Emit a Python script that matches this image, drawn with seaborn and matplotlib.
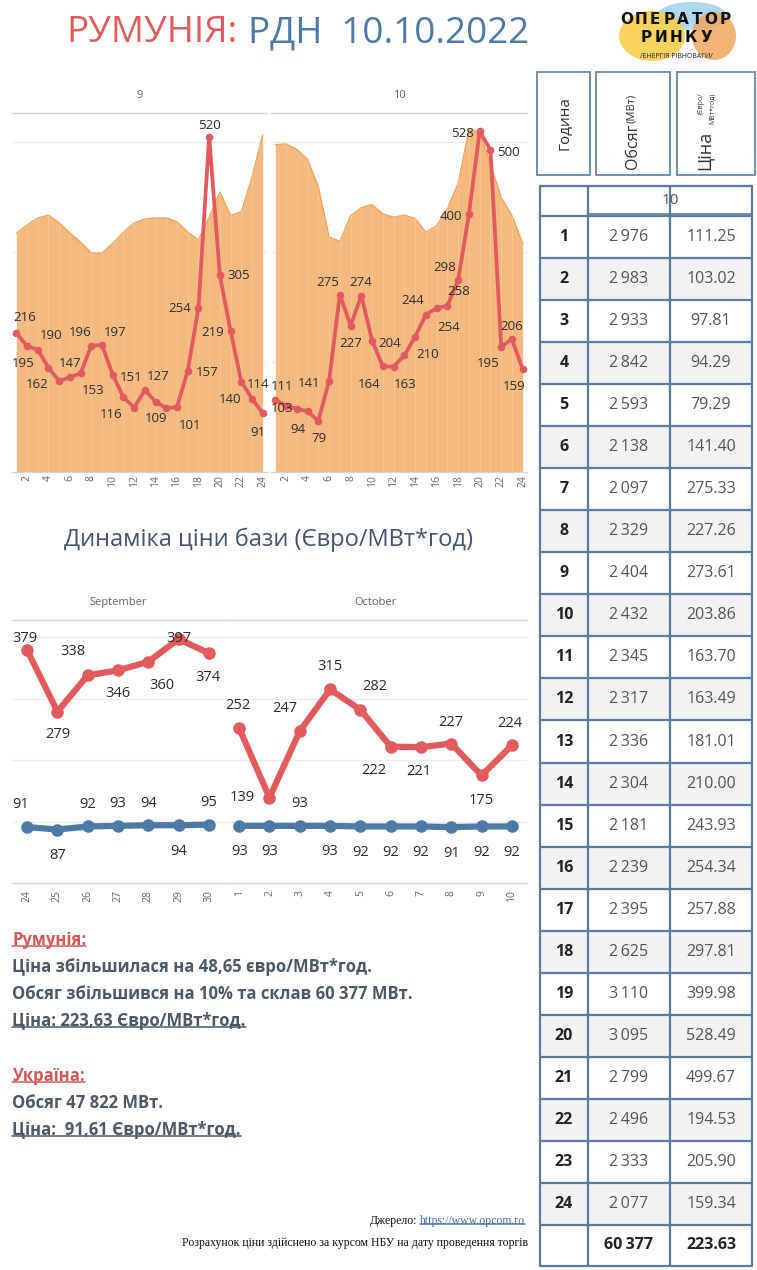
import numpy as np
import seaborn as sns
import matplotlib.pyplot as plt
from matplotlib.patches import Rectangle, Ellipse

sns.set_style("white")
plt.rcParams['font.family'] = ['Open Sans', 'DejaVu Sans']

# --- data ---
hours = list(range(1, 25))
# day 9
vol_9 = [2170, 2245, 2310, 2335, 2265, 2175, 2090, 1990, 1990, 2080, 2180, 2265,
         2300, 2310, 2310, 2275, 2180, 2110, 2315, 2545, 2335, 2365, 2680, 3065]
price_9 = [216, 195, 190, 162, 141, 147, 153, 196, 197, 151, 116, 100,
           127, 109, 99, 101, 157, 254, 520, 305, 219, 140, 114, 91]
# day 10: from the table
vol_10 = [2976, 2983, 2933, 2842, 2593, 2138, 2097, 2329, 2404, 2432, 2345, 2317,
          2336, 2304, 2181, 2239, 2395, 2625, 3110, 3095, 2799, 2496, 2333, 2077]
price_10 = [111.25, 103.02, 97.81, 94.29, 79.29, 141.40, 275.33, 227.26, 273.61, 203.86, 163.70, 163.49,
            181.01, 210.00, 243.93, 254.34, 257.88, 297.81, 399.98, 528.49, 499.67, 194.53, 205.90, 159.34]
total_vol_10 = 60377
base_price_10 = 223.63

sep_days = [24, 25, 26, 27, 28, 29, 30]
oct_days = [1, 2, 3, 4, 5, 6, 7, 8, 9, 10]
ro_sep = [379, 279, 338, 346, 360, 397, 374]
ro_oct = [252, 139, 247, 315, 282, 222, 221, 227, 175, 224]
ua_sep = [91, 87, 92, 93, 94, 94, 95]
ua_oct = [93, 93, 93, 93, 92, 92, 92, 91, 92, 92]

# label offsets in pixels (None = no label)
offs_9 = [(8, 15), (-4, -17), (13, 14), (-11, -17), None, (0, 14), (13, -17), (-11, 13), (13, 13), (18, -3),
          (-12, -17), None, (13, 14), (1, -17), None, (13, -19), (19, -2), (-19, 0), (0, 11), (19, 0),
          (-18, -2), (-11, -18), (6, 14), (-5, -19)]
offs_10 = [(7, 14), (-4, -3), None, (-10, -18), (1, -18), (-20, -3), (-12, 12), (0, -18), (-1, 13), (18, -3),
           (-14, -18), (11, -18), None, (12, -18), (-13, 14), (12, -19), (11, 14), (-13, 13), (-18, -2), (-17, -2),
           (18, -3), (-13, -17), (0, 13), (-9, -17)]
offs_ro_sep = [(-2, 12), (0, -23), (-15, 24), (0, -23), (14, -24), (0, 1), (-1, -24)]
offs_ro_oct = [(-1, 23), (-27, 0), (-15, 23), (0, 23), (14, 23), (-17, -24), (-2, -24), (0, 21), (0, -25), (-2, 22)]
A, B = (0, 22), (0, -26)
offs_ua_sep = [(-7, 23), B, A, A, A, B, A]
offs_ua_oct = [B, B, A, B, B, B, B, B, B, B]

RED = '#e05a5e'
BLUE = '#4e79a7'
ORANGE = '#f5b97e'
ORANGE_EDGE = '#f0a45c'
TXT = '#4d5865'
TRED = '#d2585a'

W, H = 757, 1270
fig = plt.figure(figsize=(W / 100, H / 100), dpi=100)

ov = fig.add_axes([0, 0, 1, 1])
ov.set_xlim(0, W)
ov.set_ylim(H, 0)
ov.axis('off')


def px_axes(x0, y0, x1, y1):
    return fig.add_axes([x0 / W, 1 - y1 / H, (x1 - x0) / W, (y1 - y0) / H])


def label_points(ax, xs, ys, offs, size):
    for x, y, off in zip(xs, ys, offs):
        if off is None:
            continue
        ax.annotate(f"{y:.0f}", (x, y), xytext=off, textcoords='offset pixels',
                    ha='center', va='center', fontsize=size, color='#2b2b2b', zorder=6)


def frame(ax):
    for s in ['left', 'right']:
        ax.spines[s].set_visible(False)
    for s in ['top', 'bottom']:
        ax.spines[s].set_color('#d4d4d4')
        ax.spines[s].set_linewidth(1)
    ax.set_yticks([])


# --- title & logo ---
ov.text(238, 42, "РУМУНІЯ:", ha='right', va='baseline', fontsize=26.5, color=RED)
ov.text(248, 42, "РДН  10.10.2022", ha='left', va='baseline', fontsize=26.5, color=BLUE)

ov.add_patch(Ellipse((692, 16), 70, 28, color='#a8d5ef', alpha=0.9, lw=0))
ov.add_patch(Ellipse((652, 36), 66, 50, color='#f5cf4c', alpha=0.9, lw=0))
ov.add_patch(Ellipse((714, 36), 44, 48, color='#f2a65c', alpha=0.85, lw=0))
for word, yy, step in [("ОПЕРАТОР", 19, 14), ("РИНКУ", 38, 15)]:
    n = len(word)
    for i, ch in enumerate(word):
        ov.text(676 + (i - (n - 1) / 2) * step, yy, ch, ha='center', va='center',
                fontsize=11, fontweight='bold', color='#111', family='DejaVu Sans')
ov.text(676, 56, "/ЕНЕРГІЯ РІВНОВАГИ/", ha='center', va='center', fontsize=5, color='#222')

# --- hourly chart ---
panels = [((12, 267), "9", vol_9, price_9, offs_9), ((271, 527), "10", vol_10, price_10, offs_10)]
for (x0, x1), head, vol, price, offs in panels:
    ax = px_axes(x0, 113, x1, 472)
    for g in (1000, 2000, 3000):
        ax.axhline(g, color='#ebebeb', lw=1, zorder=0)
    ax.fill_between(hours, vol, color=ORANGE, lw=0, zorder=1)
    sns.lineplot(x=hours, y=vol, ax=ax, color=ORANGE_EDGE, lw=1, zorder=2)
    for h in hours:
        ax.axvline(h, color='white', alpha=0.18, lw=0.7, zorder=2)
    ax.set_xlim(0.6, 24.4)
    ax.set_ylim(0, 3264)
    frame(ax)
    ax.set_xticks(range(2, 25, 2))
    ax.set_xticklabels([str(h) for h in range(2, 25, 2)], rotation=90, fontsize=7.5, color='#666')
    ax.tick_params(axis='x', length=0, pad=2)
    ax.set_xlabel('')
    ax.text(0.5, 1.05, head, transform=ax.transAxes, ha='center', va='center', fontsize=8, color='#666')

    ax2 = ax.twinx()
    sns.lineplot(x=hours, y=price, ax=ax2, color=RED, lw=2.7, marker='o', markersize=5.5,
                 markeredgewidth=0, zorder=4)
    ax2.set_ylim(0, 557)
    ax2.set_xlim(0.6, 24.4)
    ax2.axis('off')
    label_points(ax2, hours, price, offs, 9.5)

# --- subtitle ---
ov.text(269, 540, "Динаміка ціни бази (Євро/МВт*год)", ha='center', va='center', fontsize=17, color='#44546a')

# --- daily chart ---
daily = [((12, 224), "September", sep_days, ro_sep, ua_sep, offs_ro_sep, offs_ua_sep),
         ((224, 527), "October", oct_days, ro_oct, ua_oct, offs_ro_oct, offs_ua_oct)]
for (x0, x1), name, days, ro, ua, o_ro, o_ua in daily:
    ax = px_axes(x0, 620, x1, 883)
    idx = np.arange(len(days))
    for g in (100, 200, 300, 400):
        ax.axhline(g, color='#ececec', lw=1, zorder=0)
    sns.lineplot(x=idx, y=ro, ax=ax, color=RED, lw=4.5, marker='o', markersize=9, markeredgewidth=0, zorder=3)
    sns.lineplot(x=idx, y=ua, ax=ax, color=BLUE, lw=4.5, marker='o', markersize=9, markeredgewidth=0, zorder=3)
    ax.set_xlim(-0.5, len(days) - 0.5)
    ax.set_ylim(0, 428)
    frame(ax)
    ax.set_xticks(idx)
    ax.set_xticklabels([str(d) for d in days], rotation=90, fontsize=7.5, color='#666')
    ax.tick_params(axis='x', length=0, pad=5)
    ax.text(0.5, 1.065, name, transform=ax.transAxes, ha='center', va='center', fontsize=8, color='#666')
    label_points(ax, idx, ro, o_ro, 10.5)
    label_points(ax, idx, ua, o_ua, 10.5)

# --- summary text ---
FS = 12
underlined = []
t = ov.text(12, 940, "Румунія:", fontsize=FS, fontweight='bold', color=TRED, va='center')
underlined.append(t)
ov.text(12, 967, "Ціна збільшилася на 48,65 євро/МВт*год.", fontsize=FS, fontweight='bold', color=TXT, va='center')
ov.text(12, 994, "Обсяг збільшився на 10% та склав 60 377 МВт.", fontsize=FS, fontweight='bold', color=TXT, va='center')
t = ov.text(12, 1021, "Ціна: 223,63 Євро/МВт*год.", fontsize=FS, fontweight='bold', color=TXT, va='center')
underlined.append(t)
t = ov.text(12, 1076, "Україна:", fontsize=FS, fontweight='bold', color=TRED, va='center')
underlined.append(t)
ov.text(12, 1103, "Обсяг 47 822 МВт.", fontsize=FS, fontweight='bold', color=TXT, va='center')
t = ov.text(12, 1130, "Ціна:  91,61 Євро/МВт*год.", fontsize=FS, fontweight='bold', color=TXT, va='center')
underlined.append(t)

url = ov.text(525, 1221, "https://www.opcom.ro", ha='right', va='center', fontsize=8.5,
              color='#4a6fa5', family='Liberation Serif')
underlined.append(url)
ov.text(528, 1243, "Розрахунок ціни здійснено за курсом НБУ на дату проведення торгів", ha='right', va='center',
        fontsize=8.5, color='#111', family='Liberation Serif')

# --- table ---
EDGE = '#5b7b9c'
for bx0, bx1 in [(537, 590), (596, 670), (677, 755)]:
    ov.add_patch(Rectangle((bx0, 72), bx1 - bx0, 103, fill=False, edgecolor=EDGE, lw=1.2))
ov.text(565, 123, "Година", rotation=90, ha='center', va='center', fontsize=11, color='#333')
ov.text(633, 146, "Обсяг", rotation=90, ha='center', va='center', fontsize=11.5, color='#333')
ov.text(632, 108, "(МВт)", rotation=90, ha='center', va='center', fontsize=8, color='#333')
ov.text(705, 150, "Ціна", rotation=90, ha='center', va='center', fontsize=13, color='#333')
ov.text(701, 103, "(Євро/", rotation=90, ha='center', va='center', fontsize=5, color='#333')
ov.text(712, 108, "МВт*год)", rotation=90, ha='center', va='center', fontsize=5, color='#333')

cx = [540, 588, 670, 752]
top0, rh = 216, 42.04
for k in range(24):
    y0 = top0 + k * rh
    if k % 2 == 1:
        ov.add_patch(Rectangle((cx[0], y0), cx[3] - cx[0], rh, color='#f2f2f2', lw=0))
    yc = y0 + rh / 2
    ov.text((cx[0] + cx[1]) / 2, yc, str(hours[k]), ha='center', va='center', fontsize=11.5,
            fontweight='bold', color='#222')
    ov.text((cx[1] + cx[2]) / 2, yc, f"{vol_10[k]:,}".replace(',', '\u2009'), ha='center', va='center',
            fontsize=11.5, color='#555')
    ov.text((cx[2] + cx[3]) / 2, yc, f"{price_10[k]:.2f}", ha='center', va='center', fontsize=11.5, color='#555')
tot_top = top0 + 24 * rh
tot_bot = 1266
ytot = (tot_top + tot_bot) / 2
ov.text((cx[1] + cx[2]) / 2, ytot, f"{total_vol_10:,}".replace(',', '\u2009'), ha='center', va='center',
        fontsize=11.5, fontweight='bold', color='#222')
ov.text((cx[2] + cx[3]) / 2, ytot, f"{base_price_10:.2f}", ha='center', va='center', fontsize=11.5,
        fontweight='bold', color='#222')
ov.text((cx[1] + cx[3]) / 2, 200, "10", ha='center', va='center', fontsize=11, color='#555')
for k in range(25):
    yy = top0 + k * rh
    ov.plot([cx[0], cx[3]], [yy, yy], color=EDGE, lw=1.6)
ov.plot([cx[0], cx[3]], [186, 186], color=EDGE, lw=1.6)
ov.plot([cx[1], cx[3]], [214, 214], color=EDGE, lw=1.2)
ov.plot([cx[0], cx[3]], [tot_bot, tot_bot], color=EDGE, lw=1.6)
for x in cx:
    ov.plot([x, x], [186, tot_bot], color=EDGE, lw=1.6)

# underlines and source prefix need text extents
fig.canvas.draw()
r = fig.canvas.get_renderer()
inv = ov.transData.inverted()
for t in underlined:
    bb = t.get_window_extent(r)
    (ux0, uy), (ux1, _) = inv.transform([(bb.x0, bb.y0), (bb.x1, bb.y0)])
    ov.plot([ux0, ux1], [uy - 3, uy - 3], color=t.get_color(), lw=1.1)
bb = url.get_window_extent(r)
ux0, _ = inv.transform((bb.x0, bb.y0))
ov.text(ux0 - 2, 1221, "Джерело:", ha='right', va='center', fontsize=8.5, color='#111', family='Liberation Serif')

fig.savefig("out.png", dpi=100)
